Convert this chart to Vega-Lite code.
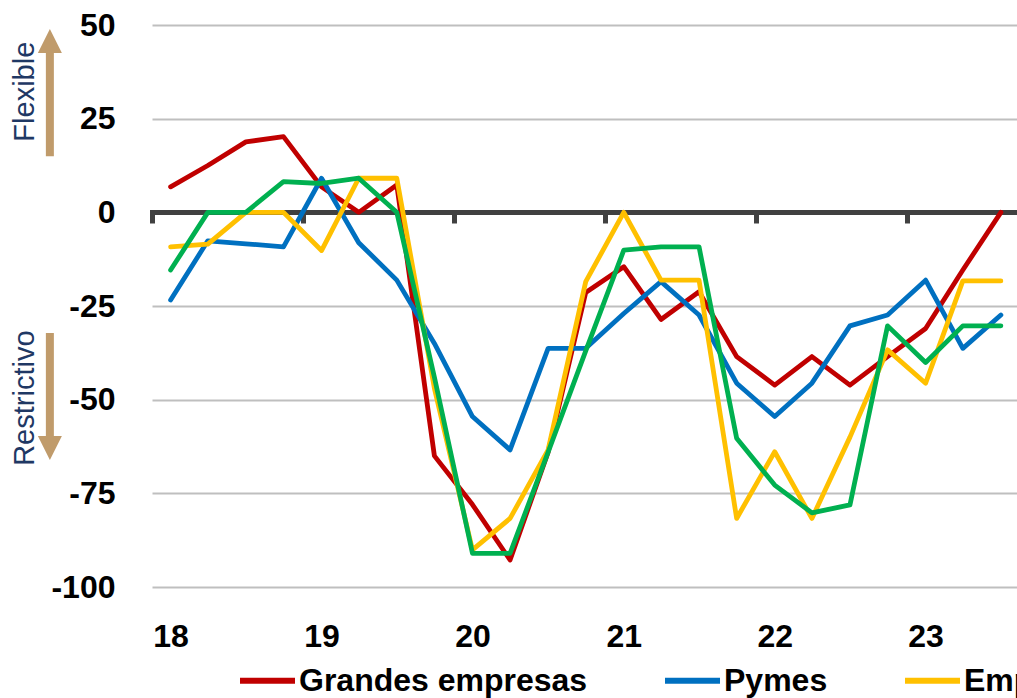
{
  "$schema": "https://vega.github.io/schema/vega-lite/v6.json",
  "width": 865,
  "height": 562,
  "autosize": {"type": "none"},
  "padding": {"left": 152, "top": 25, "right": 0, "bottom": 111},
  "background": "white",
  "config": {
    "view": {"stroke": null},
    "font": "Liberation Sans"
  },
  "resolve": {"axis": {"x": "independent"}},
  "layer": [
    {
      "data": {
        "values": [
          {"fecha": "2018-02-15", "Grandes empresas": 6.8, "Pymes": -23.4, "Empresas constructoras": -9.2, "Inmobiliarias": -15.4},
          {"fecha": "2018-05-16", "Grandes empresas": 12.5, "Pymes": -7.6, "Empresas constructoras": -8.5, "Inmobiliarias": 0},
          {"fecha": "2018-08-16", "Grandes empresas": 18.8, "Pymes": -8.4, "Empresas constructoras": 0, "Inmobiliarias": 0},
          {"fecha": "2018-11-15", "Grandes empresas": 20.2, "Pymes": -9.2, "Empresas constructoras": 0, "Inmobiliarias": 8.2},
          {"fecha": "2019-02-15", "Grandes empresas": 6.8, "Pymes": 9.1, "Empresas constructoras": -10.2, "Inmobiliarias": 7.7},
          {"fecha": "2019-05-16", "Grandes empresas": 0, "Pymes": -8.1, "Empresas constructoras": 9.1, "Inmobiliarias": 9.1},
          {"fecha": "2019-08-16", "Grandes empresas": 7.3, "Pymes": -18.1, "Empresas constructoras": 9.1, "Inmobiliarias": 0},
          {"fecha": "2019-11-15", "Grandes empresas": -65, "Pymes": -35, "Empresas constructoras": -47, "Inmobiliarias": -44},
          {"fecha": "2020-02-15", "Grandes empresas": -78, "Pymes": -54.5, "Empresas constructoras": -90.1, "Inmobiliarias": -91},
          {"fecha": "2020-05-16", "Grandes empresas": -92.8, "Pymes": -63.4, "Empresas constructoras": -81.7, "Inmobiliarias": -91},
          {"fecha": "2020-08-16", "Grandes empresas": -64, "Pymes": -36.3, "Empresas constructoras": -63.4, "Inmobiliarias": -64},
          {"fecha": "2020-11-15", "Grandes empresas": -21.4, "Pymes": -36.3, "Empresas constructoras": -18.5, "Inmobiliarias": -37},
          {"fecha": "2021-02-15", "Grandes empresas": -14.5, "Pymes": -27, "Empresas constructoras": 0, "Inmobiliarias": -10.1},
          {"fecha": "2021-05-16", "Grandes empresas": -28.6, "Pymes": -18.5, "Empresas constructoras": -18.1, "Inmobiliarias": -9.2},
          {"fecha": "2021-08-16", "Grandes empresas": -21.2, "Pymes": -27.4, "Empresas constructoras": -18.1, "Inmobiliarias": -9.2},
          {"fecha": "2021-11-15", "Grandes empresas": -38.5, "Pymes": -45.6, "Empresas constructoras": -81.7, "Inmobiliarias": -60.3},
          {"fecha": "2022-02-15", "Grandes empresas": -46.1, "Pymes": -54.5, "Empresas constructoras": -63.9, "Inmobiliarias": -72.8},
          {"fecha": "2022-05-16", "Grandes empresas": -38.5, "Pymes": -45.6, "Empresas constructoras": -81.7, "Inmobiliarias": -80.2},
          {"fecha": "2022-08-16", "Grandes empresas": -46.1, "Pymes": -30.3, "Empresas constructoras": -60, "Inmobiliarias": -78.1},
          {"fecha": "2022-11-15", "Grandes empresas": -38.5, "Pymes": -27.4, "Empresas constructoras": -36.7, "Inmobiliarias": -30.3},
          {"fecha": "2023-02-15", "Grandes empresas": -31, "Pymes": -18.1, "Empresas constructoras": -45.6, "Inmobiliarias": -40.1},
          {"fecha": "2023-05-16", "Grandes empresas": -15.4, "Pymes": -36.3, "Empresas constructoras": -18.3, "Inmobiliarias": -30.3},
          {"fecha": "2023-08-16", "Grandes empresas": 0, "Pymes": -27.4, "Empresas constructoras": -18.3, "Inmobiliarias": -30.3}
        ]
      },
      "transform": [
        {"fold": ["Grandes empresas", "Pymes", "Empresas constructoras", "Inmobiliarias"], "as": ["serie", "valor"]}
      ],
      "mark": {"type": "line", "strokeWidth": 4.8, "strokeJoin": "round", "strokeCap": "round"},
      "encoding": {
        "x": {
          "field": "fecha", "type": "temporal",
          "scale": {"type": "utc", "domain": [{"year": 2018, "month": 1, "date": 1, "utc": true}, {"year": 2023, "month": 9, "date": 24, "utc": true}], "nice": false},
          "axis": {
            "orient": "bottom", "title": null, "domain": false, "ticks": false, "tickSize": 0, "grid": false,
            "values": [
              {"year": 2018, "month": 2, "date": 15, "utc": true},
              {"year": 2019, "month": 2, "date": 15, "utc": true},
              {"year": 2020, "month": 2, "date": 15, "utc": true},
              {"year": 2021, "month": 2, "date": 15, "utc": true},
              {"year": 2022, "month": 2, "date": 15, "utc": true},
              {"year": 2023, "month": 2, "date": 15, "utc": true}
            ],
            "labelExpr": "utcFormat(datum.value, '%y')",
            "labelFont": "Liberation Sans", "labelFontWeight": "bold", "labelFontSize": 32, "labelColor": "#000000",
            "labelPadding": 34, "labelFlush": false, "labelOverlap": false
          }
        },
        "y": {
          "field": "valor", "type": "quantitative",
          "scale": {"domain": [-100, 50], "nice": false, "zero": false},
          "axis": {
            "title": null, "domain": false, "ticks": false, "tickSize": 0,
            "values": [-100, -75, -50, -25, 0, 25, 50],
            "labelExpr": "'' + datum.value",
            "grid": true,
            "gridColor": {"condition": {"test": "datum.value === 0", "value": "transparent"}, "value": "#BFBFBF"},
            "gridWidth": 2,
            "labelFont": "Liberation Sans", "labelFontWeight": "bold", "labelFontSize": 32, "labelColor": "#000000",
            "labelPadding": 37
          }
        },
        "color": {
          "field": "serie", "type": "nominal",
          "scale": {
            "domain": ["Grandes empresas", "Pymes", "Empresas constructoras", "Inmobiliarias"],
            "range": ["#C00000", "#0070C0", "#FFC000", "#00B050"]
          },
          "legend": {
            "orient": "none", "legendX": 85, "legendY": 625, "direction": "horizontal", "title": null,
            "symbolType": "stroke", "symbolSize": 3025, "symbolStrokeWidth": 6,
            "labelFont": "Liberation Sans", "labelFontWeight": "bold", "labelFontSize": 32, "labelColor": "#000000",
            "labelOffset": 1, "columnPadding": 65, "labelLimit": 0
          }
        }
      }
    },
    {
      "data": {"values": [{"nota": "Flexible"}]},
      "mark": {"type": "rule", "strokeWidth": 8, "color": "#C09B6B"},
      "encoding": {
        "x": {
          "datum": {"year": 2017, "month": 4, "date": 29, "utc": true}, "type": "temporal",
          "scale": {"type": "utc", "domain": [{"year": 2018, "month": 1, "date": 1, "utc": true}, {"year": 2023, "month": 9, "date": 24, "utc": true}], "nice": false},
          "axis": {
            "orient": "bottom", "offset": -375, "title": null, "labels": false, "grid": false,
            "domain": true, "domainColor": "#404040", "domainWidth": 5, "domainCap": "square",
            "ticks": true, "tickColor": "#404040", "tickWidth": 5, "tickSize": 11,
            "values": [
              {"year": 2018, "month": 1, "date": 1, "utc": true},
              {"year": 2019, "month": 1, "date": 1, "utc": true},
              {"year": 2020, "month": 1, "date": 1, "utc": true},
              {"year": 2021, "month": 1, "date": 1, "utc": true},
              {"year": 2022, "month": 1, "date": 1, "utc": true},
              {"year": 2023, "month": 1, "date": 1, "utc": true}
            ]
          }
        },
        "y": {"datum": 15, "type": "quantitative", "scale": {"domain": [-100, 50], "nice": false, "zero": false}},
        "y2": {"datum": 44}
      }
    },
    {
      "data": {"values": [{"nota": "Flexible"}]},
      "mark": {"type": "point", "shape": "M0,-1L-1,1L1,1Z", "size": 576, "filled": true, "opacity": 1, "strokeWidth": 0, "color": "#C09B6B"},
      "encoding": {
        "x": {"datum": {"year": 2017, "month": 4, "date": 29, "utc": true}, "type": "temporal", "axis": null,
              "scale": {"type": "utc", "domain": [{"year": 2018, "month": 1, "date": 1, "utc": true}, {"year": 2023, "month": 9, "date": 24, "utc": true}], "nice": false}},
        "y": {"datum": 45.7, "type": "quantitative", "scale": {"domain": [-100, 50], "nice": false, "zero": false}}
      }
    },
    {
      "data": {"values": [{"nota": "Restrictivo"}]},
      "mark": {"type": "rule", "strokeWidth": 8, "color": "#C09B6B"},
      "encoding": {
        "x": {"datum": {"year": 2017, "month": 4, "date": 29, "utc": true}, "type": "temporal", "axis": null,
              "scale": {"type": "utc", "domain": [{"year": 2018, "month": 1, "date": 1, "utc": true}, {"year": 2023, "month": 9, "date": 24, "utc": true}], "nice": false}},
        "y": {"datum": -32.2, "type": "quantitative", "scale": {"domain": [-100, 50], "nice": false, "zero": false}},
        "y2": {"datum": -61}
      }
    },
    {
      "data": {"values": [{"nota": "Restrictivo"}]},
      "mark": {"type": "point", "shape": "M-1,-1L1,-1L0,1Z", "size": 576, "filled": true, "opacity": 1, "strokeWidth": 0, "color": "#C09B6B"},
      "encoding": {
        "x": {"datum": {"year": 2017, "month": 4, "date": 29, "utc": true}, "type": "temporal", "axis": null,
              "scale": {"type": "utc", "domain": [{"year": 2018, "month": 1, "date": 1, "utc": true}, {"year": 2023, "month": 9, "date": 24, "utc": true}], "nice": false}},
        "y": {"datum": -62.9, "type": "quantitative", "scale": {"domain": [-100, 50], "nice": false, "zero": false}}
      }
    },
    {
      "data": {"values": [{"nota": "Flexible"}]},
      "mark": {"type": "text", "angle": 270, "align": "center", "baseline": "alphabetic", "font": "Liberation Sans", "fontSize": 29, "color": "#1F3864"},
      "encoding": {
        "x": {"datum": {"year": 2017, "month": 3, "date": 22, "utc": true}, "type": "temporal", "axis": null,
              "scale": {"type": "utc", "domain": [{"year": 2018, "month": 1, "date": 1, "utc": true}, {"year": 2023, "month": 9, "date": 24, "utc": true}], "nice": false}},
        "y": {"datum": 32.2, "type": "quantitative", "scale": {"domain": [-100, 50], "nice": false, "zero": false}},
        "text": {"field": "nota"}
      }
    },
    {
      "data": {"values": [{"nota": "Restrictivo"}]},
      "mark": {"type": "text", "angle": 270, "align": "center", "baseline": "alphabetic", "font": "Liberation Sans", "fontSize": 29, "color": "#1F3864"},
      "encoding": {
        "x": {"datum": {"year": 2017, "month": 3, "date": 22, "utc": true}, "type": "temporal", "axis": null,
              "scale": {"type": "utc", "domain": [{"year": 2018, "month": 1, "date": 1, "utc": true}, {"year": 2023, "month": 9, "date": 24, "utc": true}], "nice": false}},
        "y": {"datum": -49.6, "type": "quantitative", "scale": {"domain": [-100, 50], "nice": false, "zero": false}},
        "text": {"field": "nota"}
      }
    }
  ]
}
